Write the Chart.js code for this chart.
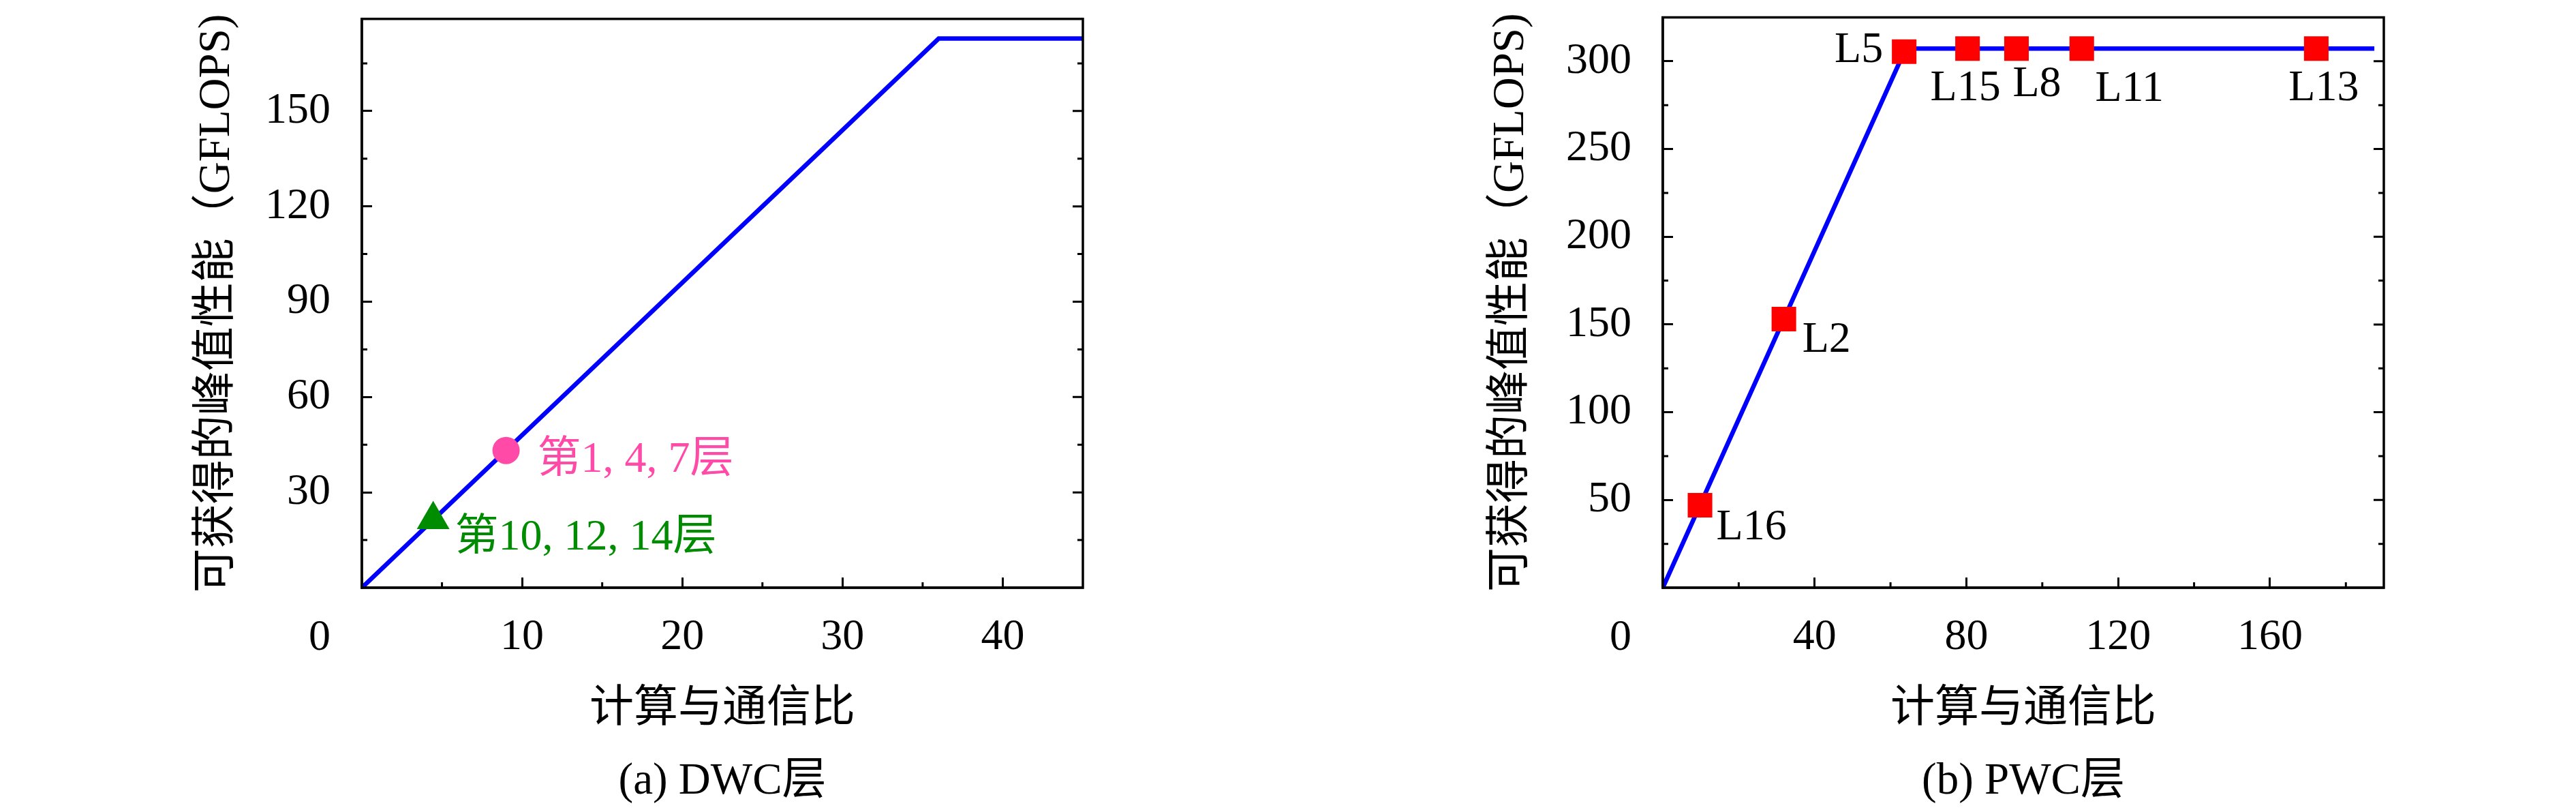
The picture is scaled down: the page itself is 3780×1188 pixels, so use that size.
<!DOCTYPE html>
<html>
<head>
<meta charset="utf-8">
<script src="https://cdn.jsdelivr.net/npm/chart.js@4.4.1/dist/chart.umd.min.js"></script>
<style>
  html, body { margin: 0; padding: 0; background: #fff; }
  #wrap { position: relative; width: 3780px; height: 1188px; }
  canvas { position: absolute; top: 0; }
  #dwc { left: 0; }
  #pwc { left: 1890px; }
</style>
</head>
<body>
<div id="wrap">
  <canvas id="dwc" width="1890" height="1188"></canvas>
  <canvas id="pwc" width="1890" height="1188"></canvas>
</div>
<script>
// (a) DWC层
const dwcRoofX = [0, 36, 45];
const dwcRoofY = [0, 172.8, 172.8];
const dwcGroups = ['第1, 4, 7层', '第10, 12, 14层'];
const dwcGroupX = [9, 4.45];
const dwcGroupY = [43.2, 21.4];
const dwcXTicks = [0, 10, 20, 30, 40];
const dwcXMinor = [5, 15, 25, 35];
const dwcYTicks = [30, 60, 90, 120, 150];
const dwcYMinor = [15, 45, 75, 105, 135, 165];

// (b) PWC层
const pwcRoofX = [0, 64, 187.5];
const pwcRoofY = [0, 307.2, 307.2];
const pwcLayers = ['L16', 'L2', 'L5', 'L15', 'L8', 'L11', 'L13'];
const pwcRatio = [9.8, 31.9, 63.6, 80.3, 93.2, 110.4, 172.2];
const pwcPerf = [47.0, 153.1, 305.5, 307.2, 307.2, 307.2, 307.2];
const pwcXTicks = [0, 40, 80, 120, 160];
const pwcXMinor = [20, 60, 100, 140, 180];
const pwcYTicks = [50, 100, 150, 200, 250, 300];
const pwcYMinor = [25, 75, 125, 175, 225, 275];

const xTitle = '计算与通信比';
const yTitle = '可获得的峰值性能（GFLOPS)';

const FONT = "'Liberation Serif', 'Noto Sans CJK SC', serif";
const BLUE = '#0000ff';
const PINK = '#ff4aa8';
const GREEN = '#008c00';
const RED = '#ff0000';

// minor ticks, mirrored right ticks, frame, corner 0 and point notes
const roofDecor = {
  id: 'roofDecor',
  afterDraw(chart, args, o) {
    const { ctx, chartArea: a, scales: { x, y } } = chart;
    ctx.save();
    ctx.strokeStyle = '#000';
    ctx.lineWidth = 3;
    ctx.beginPath();
    o.xMinor.forEach(v => {
      const px = x.getPixelForValue(v);
      ctx.moveTo(px, a.bottom); ctx.lineTo(px, a.bottom - 8);
    });
    o.yMinor.forEach(v => {
      const py = y.getPixelForValue(v);
      ctx.moveTo(a.left, py); ctx.lineTo(a.left + 8, py);
      ctx.moveTo(a.right, py); ctx.lineTo(a.right - 8, py);
    });
    o.yTicks.forEach(v => {
      const py = y.getPixelForValue(v);
      ctx.moveTo(a.right, py); ctx.lineTo(a.right - 15, py);
    });
    ctx.stroke();
    ctx.lineWidth = 3.5;
    ctx.strokeRect(a.left, a.top, a.right - a.left, a.bottom - a.top);

    ctx.font = '64px ' + FONT;
    ctx.textBaseline = 'middle';
    ctx.fillStyle = '#000';
    ctx.textAlign = 'center';
    ctx.fillText(String(o.origin), a.left - 62, a.bottom + 74);

    o.notes.forEach(n => {
      const el = chart.getDatasetMeta(n.ds).data[n.i];
      ctx.fillStyle = n.color;
      ctx.textAlign = n.align;
      ctx.fillText(n.text, el.x + n.dx, el.y + n.dy);
    });
    ctx.restore();
  }
};

function axisX(max, ticks, caption) {
  return {
    type: 'linear', min: 0, max: max,
    afterBuildTicks: s => { s.ticks = ticks.map(v => ({ value: v })); },
    afterFit: s => { s.height = 326; s.paddingLeft = 0; s.paddingRight = 0; },
    grid: { drawOnChartArea: false, tickLength: -15, tickWidth: 3, tickColor: '#000' },
    border: { color: '#000', width: 3.5 },
    ticks: {
      padding: 50, color: '#000', maxRotation: 0, autoSkip: false,
      font: { family: FONT, size: 64 },
      callback: v => v === 0 ? '' : String(v)
    },
    title: {
      display: true, text: [xTitle, caption], color: '#000',
      font: { family: FONT, size: 65, lineHeight: '106px' },
      padding: { top: 0, bottom: -12 }
    }
  };
}

function axisY(max, ticks, width, titlePad) {
  return {
    type: 'linear', min: 0, max: max,
    afterBuildTicks: s => { s.ticks = ticks.map(v => ({ value: v })); },
    afterFit: s => { s.width = width; s.paddingTop = 0; s.paddingBottom = 0; },
    grid: { drawOnChartArea: false, tickLength: -15, tickWidth: 3, tickColor: '#000' },
    border: { color: '#000', width: 3.5 },
    ticks: { padding: 61, color: '#000', autoSkip: false, font: { family: FONT, size: 64 } },
    title: {
      display: true, text: yTitle, color: '#000',
      font: { family: FONT, size: 65, lineHeight: 1.2 },
      padding: { top: titlePad, bottom: 0 }
    }
  };
}

function pts(xs, ys) {
  return xs.map((x, i) => ({ x: x, y: ys[i] }));
}

const dwcChart = new Chart(document.getElementById('dwc'), {
  type: 'scatter',
  data: {
    datasets: [
      { data: pts(dwcGroupX.slice(0, 1), dwcGroupY.slice(0, 1)), pointStyle: 'circle', pointRadius: 20,
        backgroundColor: PINK, borderColor: PINK, pointBorderWidth: 0, order: 0 },
      { data: pts(dwcGroupX.slice(1, 2), dwcGroupY.slice(1, 2)), pointStyle: 'triangle', pointRadius: 27.7,
        backgroundColor: GREEN, borderColor: GREEN, pointBorderWidth: 0, order: 0 },
      { type: 'line', data: pts(dwcRoofX, dwcRoofY), borderColor: BLUE, borderWidth: 6.5,
        pointRadius: 0, tension: 0, fill: false, order: 1 }
    ]
  },
  options: {
    responsive: false, animation: false, devicePixelRatio: 1,
    layout: { padding: { left: 0, top: 17, right: 301, bottom: 0 } },
    plugins: {
      legend: { display: false }, tooltip: { enabled: false },
      roofDecor: {
        origin: dwcXTicks[0], xMinor: dwcXMinor, yMinor: dwcYMinor, yTicks: dwcYTicks,
        notes: [
          { ds: 0, i: 0, text: dwcGroups[0], color: PINK, dx: 46, dy: 15, align: 'left' },
          { ds: 1, i: 0, text: dwcGroups[1], color: GREEN, dx: 32, dy: 27, align: 'left' }
        ]
      }
    },
    scales: {
      x: axisX(45, dwcXTicks, '(a) DWC层'),
      y: axisY(179, dwcYTicks, 531, 280)
    }
  },
  plugins: [roofDecor]
});

const pwcPlace = {
  L16: { dx: 24, dy: 33, align: 'left' },
  L2: { dx: 27, dy: 31, align: 'left' },
  L5: { dx: -31, dy: -2, align: 'right' },
  L15: { dx: -3, dy: 59, align: 'center' },
  L8: { dx: 30, dy: 53, align: 'center' },
  L11: { dx: 70, dy: 60, align: 'center' },
  L13: { dx: 11, dy: 59, align: 'center' }
};

const pwcChart = new Chart(document.getElementById('pwc'), {
  type: 'scatter',
  data: {
    datasets: [
      { data: pts(pwcRatio, pwcPerf), pointStyle: 'rect', pointRadius: 25.5,
        backgroundColor: RED, borderColor: RED, pointBorderWidth: 0, order: 0 },
      { type: 'line', data: pts(pwcRoofX, pwcRoofY), borderColor: BLUE, borderWidth: 6.5,
        pointRadius: 0, tension: 0, fill: false, order: 1 }
    ]
  },
  options: {
    responsive: false, animation: false, devicePixelRatio: 1,
    layout: { padding: { left: 0, top: 17, right: 282, bottom: 0 } },
    plugins: {
      legend: { display: false }, tooltip: { enabled: false },
      roofDecor: {
        origin: pwcXTicks[0], xMinor: pwcXMinor, yMinor: pwcYMinor, yTicks: pwcYTicks,
        notes: pwcLayers.map((t, i) => Object.assign({ ds: 0, i: i, text: t, color: '#000' }, pwcPlace[t]))
      }
    },
    scales: {
      x: axisX(190, pwcXTicks, '(b) PWC层'),
      y: axisY(325, pwcYTicks, 550, 289)
    }
  },
  plugins: [roofDecor]
});
</script>
</body>
</html>
